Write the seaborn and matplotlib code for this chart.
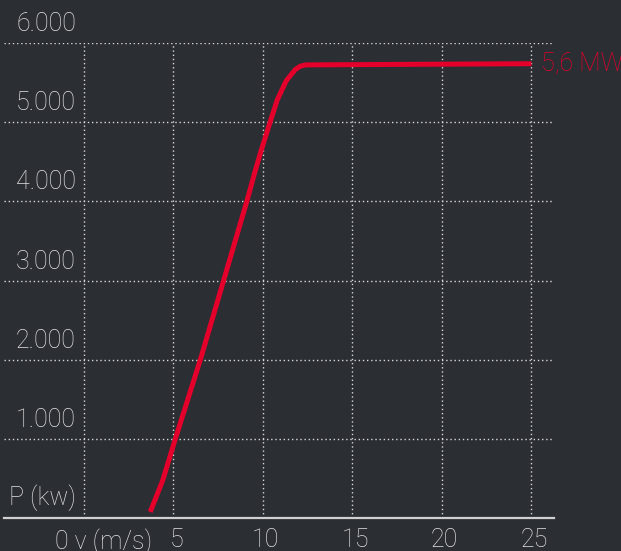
import matplotlib
matplotlib.use("Agg")
import matplotlib.pyplot as plt
import seaborn as sns
import pandas as pd

# Power curve
wind_speed = [3.7, 4.4, 5.1, 5.8, 6.5, 7.15, 7.8, 8.45, 9.1, 9.5, 9.9, 10.4,
              10.8, 11.3, 11.8, 12.1, 12.4, 25.0]
power_kw = [80, 480, 1000, 1500, 2000, 2500, 3000, 3500, 4000, 4330, 4640, 5000,
            5280, 5520, 5660, 5705, 5720, 5735]

x_ticks = [5, 10, 15, 20, 25]
y_ticks = [0, 1000, 2000, 3000, 4000, 5000, 6000]
y_labels = ['P (kw)', '1.000', '2.000', '3.000', '4.000', '5.000', '6.000']
rated_label = '5,6 MW'

bg = '#2b2e33'
fg = '#e2e2e2'
red = '#e4002b'

sns.set_theme(style='dark')
plt.rcParams['font.family'] = ['Roboto', 'DejaVu Sans']

df = pd.DataFrame({'v': wind_speed, 'P': power_kw})

fig = plt.figure(figsize=(6.21, 5.51), dpi=100, facecolor=bg)
ax = fig.add_axes([4 / 621, (551 - 518.3) / 551, 550 / 621, (518.3 - 42.7) / 551])
ax.set_facecolor(bg)

ax.set_xlim(-4.47, 26.26)
ax.set_ylim(0, 6000)

# dotted grid
for xv in [0] + x_ticks:
    ax.axvline(xv, color='#d8d8d8', lw=1.0, ls=(0, (1, 2)), zorder=1)
for yv in y_ticks[1:]:
    ax.axhline(yv, color='#d8d8d8', lw=1.0, ls=(0, (1, 2)), zorder=1)

sns.lineplot(data=df, x='v', y='P', ax=ax, color=red, lw=3.6, zorder=3,
             solid_capstyle='butt', solid_joinstyle='round')

ax.set_xticks([])
ax.set_yticks([])
ax.set_xlabel('')
ax.set_ylabel('')
for s in ['top', 'left', 'right']:
    ax.spines[s].set_visible(False)
ax.spines['bottom'].set_color('#d0d0d0')
ax.spines['bottom'].set_linewidth(1.6)

fs = 18
for yv, lab in zip(y_ticks, y_labels):
    ax.annotate(lab, xy=(-0.45, yv), xytext=(0, 5), textcoords='offset points',
                ha='right', va='bottom', color=fg, fontsize=fs,
                fontweight='light', annotation_clip=False)

for xv in x_ticks:
    ax.annotate(str(xv), xy=(xv, 0), xytext=(2, -7), textcoords='offset points',
                ha='center', va='top', color=fg, fontsize=fs,
                fontweight='light', annotation_clip=False)
ax.annotate('0 v (m/s)', xy=(-1.62, 0), xytext=(0, -7), textcoords='offset points',
            ha='left', va='top', color=fg, fontsize=fs,
            fontweight='light', annotation_clip=False)

ax.annotate(rated_label, xy=(25.53, power_kw[-1]), ha='left', va='center',
            color=red, fontsize=fs, fontweight='light', annotation_clip=False)

fig.savefig('out.png', dpi=100, facecolor=bg)
